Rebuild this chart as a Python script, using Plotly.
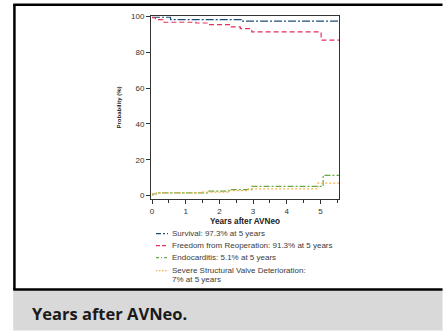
import plotly.graph_objects as go

# ---- data ----
surv_t = [0, 0.55, 2.67, 5.55]
surv_v = [99.5, 98.2, 97.3, 97.3]

reop_t = [0, 0.1, 0.32, 1.3, 1.69, 2.32, 2.62, 2.96, 5.02, 5.55]
reop_v = [99.3, 98.2, 96.7, 96.3, 95.4, 94.1, 93.2, 91.3, 86.7, 86.7]

endo_t = [0, 0.03, 0.17, 1.69, 2.28, 2.96, 5.08, 5.55]
endo_v = [0.4, 0.9, 1.5, 2.5, 3.3, 5.1, 11.3, 11.3]

svd_t = [0, 0.12, 1.5, 2.3, 2.85, 4.92, 5.55]
svd_v = [1.0, 1.5, 1.9, 2.8, 3.7, 7.0, 7.0]

names = [
    "Survival: 97.3% at 5 years",
    "Freedom from Reoperation: 91.3% at 5 years",
    "Endocarditis: 5.1% at 5 years",
    "Severe Structural Valve Deterioration:",
]
name_extra = "7% at 5 years"
colors = ["#1b4d78", "#e2325f", "#6aa846", "#f7b24c"]
dashes = ["8px,2px,2px,2px", "5px,3px", "6px,2px,2px,2px", "2px,2px"]
legend_dashes = ["5px,2px,2px,2px", "4px,2px", "3px,2px,1px,2px", "1.5px,1.5px"]

x_ticks = [0, 1, 2, 3, 4, 5]
y_ticks = [0, 20, 40, 60, 80, 100]

W, H = 443, 331
L, R, T, B = 151, 339.3, 16, 199.3


def px(x):
    return (x - L) / (R - L)


def py(y):
    return 1 - (y - T) / (B - T)


fig = go.Figure()
for t, v, n, c, d in zip([surv_t, reop_t, endo_t, svd_t],
                         [surv_v, reop_v, endo_v, svd_v],
                         names, colors, dashes):
    fig.add_trace(go.Scatter(x=t, y=v, mode="lines", name=n, showlegend=False,
                             line=dict(color=c, width=1.2, dash=d, shape="hv")))

fig.update_layout(
    width=W, height=H,
    margin=dict(l=L, r=W - R, t=T, b=H - B, pad=0),
    paper_bgcolor="white", plot_bgcolor="white",
    font=dict(family="Liberation Sans, Arial, sans-serif", size=8, color="#333"),
    showlegend=False,
    xaxis=dict(range=[-0.03, 5.55], tickvals=x_ticks, ticks="outside", ticklen=4,
               tickcolor="#333", showline=True, linecolor="#333", linewidth=1,
               mirror=True, showgrid=False, zeroline=False,
               tickfont=dict(size=8, color="#333"),
               minor=dict(dtick=0.5, ticks="outside", ticklen=3, tickcolor="#333"),
               title=dict(text="<b>Years after AVNeo</b>", font=dict(size=8.2, color="#222"),
                          standoff=3)),
    yaxis=dict(range=[-1.9, 100.2], tickvals=y_ticks, ticks="outside", ticklen=4,
               tickcolor="#333", showline=True, linecolor="#333", linewidth=1,
               mirror=True, showgrid=False, zeroline=False,
               tickfont=dict(size=8, color="#333"),
               title=dict(text="<b>Probability (%)</b>", font=dict(size=6, color="#222"),
                          standoff=8)),
)

# manual legend (compact rows)
rows = [234, 246, 258, 271]
for n, c, d, yrow in zip(names, colors, legend_dashes, rows):
    fig.add_shape(type="line", xref="paper", yref="paper",
                  x0=px(156), x1=px(168), y0=py(yrow), y1=py(yrow),
                  line=dict(color=c, width=1.2, dash=d))
    fig.add_annotation(xref="paper", yref="paper", x=px(170), y=py(yrow),
                       xanchor="left", yanchor="middle", showarrow=False, align="left",
                       text=n, font=dict(size=8, color="#3a3a3a"))
fig.add_annotation(xref="paper", yref="paper", x=px(170), y=py(280),
                   xanchor="left", yanchor="middle", showarrow=False, align="left",
                   text=name_extra, font=dict(size=8, color="#3a3a3a"))

# gray caption band
fig.add_shape(type="rect", xref="paper", yref="paper",
              x0=px(13), x1=px(443), y0=py(291), y1=py(331),
              fillcolor="#d9d9d9", line=dict(width=0), layer="below")
# frame: left, top and bottom edges only (right side runs off the picture)
frame = dict(color="black", width=2.5)
fig.add_shape(type="line", xref="paper", yref="paper",
              x0=px(14.2), x1=px(14.2), y0=py(290), y1=py(4.8), line=frame)
fig.add_shape(type="line", xref="paper", yref="paper",
              x0=px(13), x1=px(443), y0=py(4.8), y1=py(4.8), line=frame)
fig.add_shape(type="line", xref="paper", yref="paper",
              x0=px(13), x1=px(443), y0=py(290), y1=py(290), line=frame)

fig.add_annotation(xref="paper", yref="paper", x=px(30), y=py(314),
                   xanchor="left", yanchor="middle", showarrow=False,
                   text="<b>Years after AVNeo.</b>",
                   font=dict(family="Open Sans, Noto Sans, sans-serif", size=16.5, color="#1a1a1a"))

fig.write_html("out.html",
               config={"displayModeBar": False, "responsive": False},
               post_script="document.body.style.margin='0';document.body.style.padding='0';"
                           "document.body.style.overflow='hidden';")
